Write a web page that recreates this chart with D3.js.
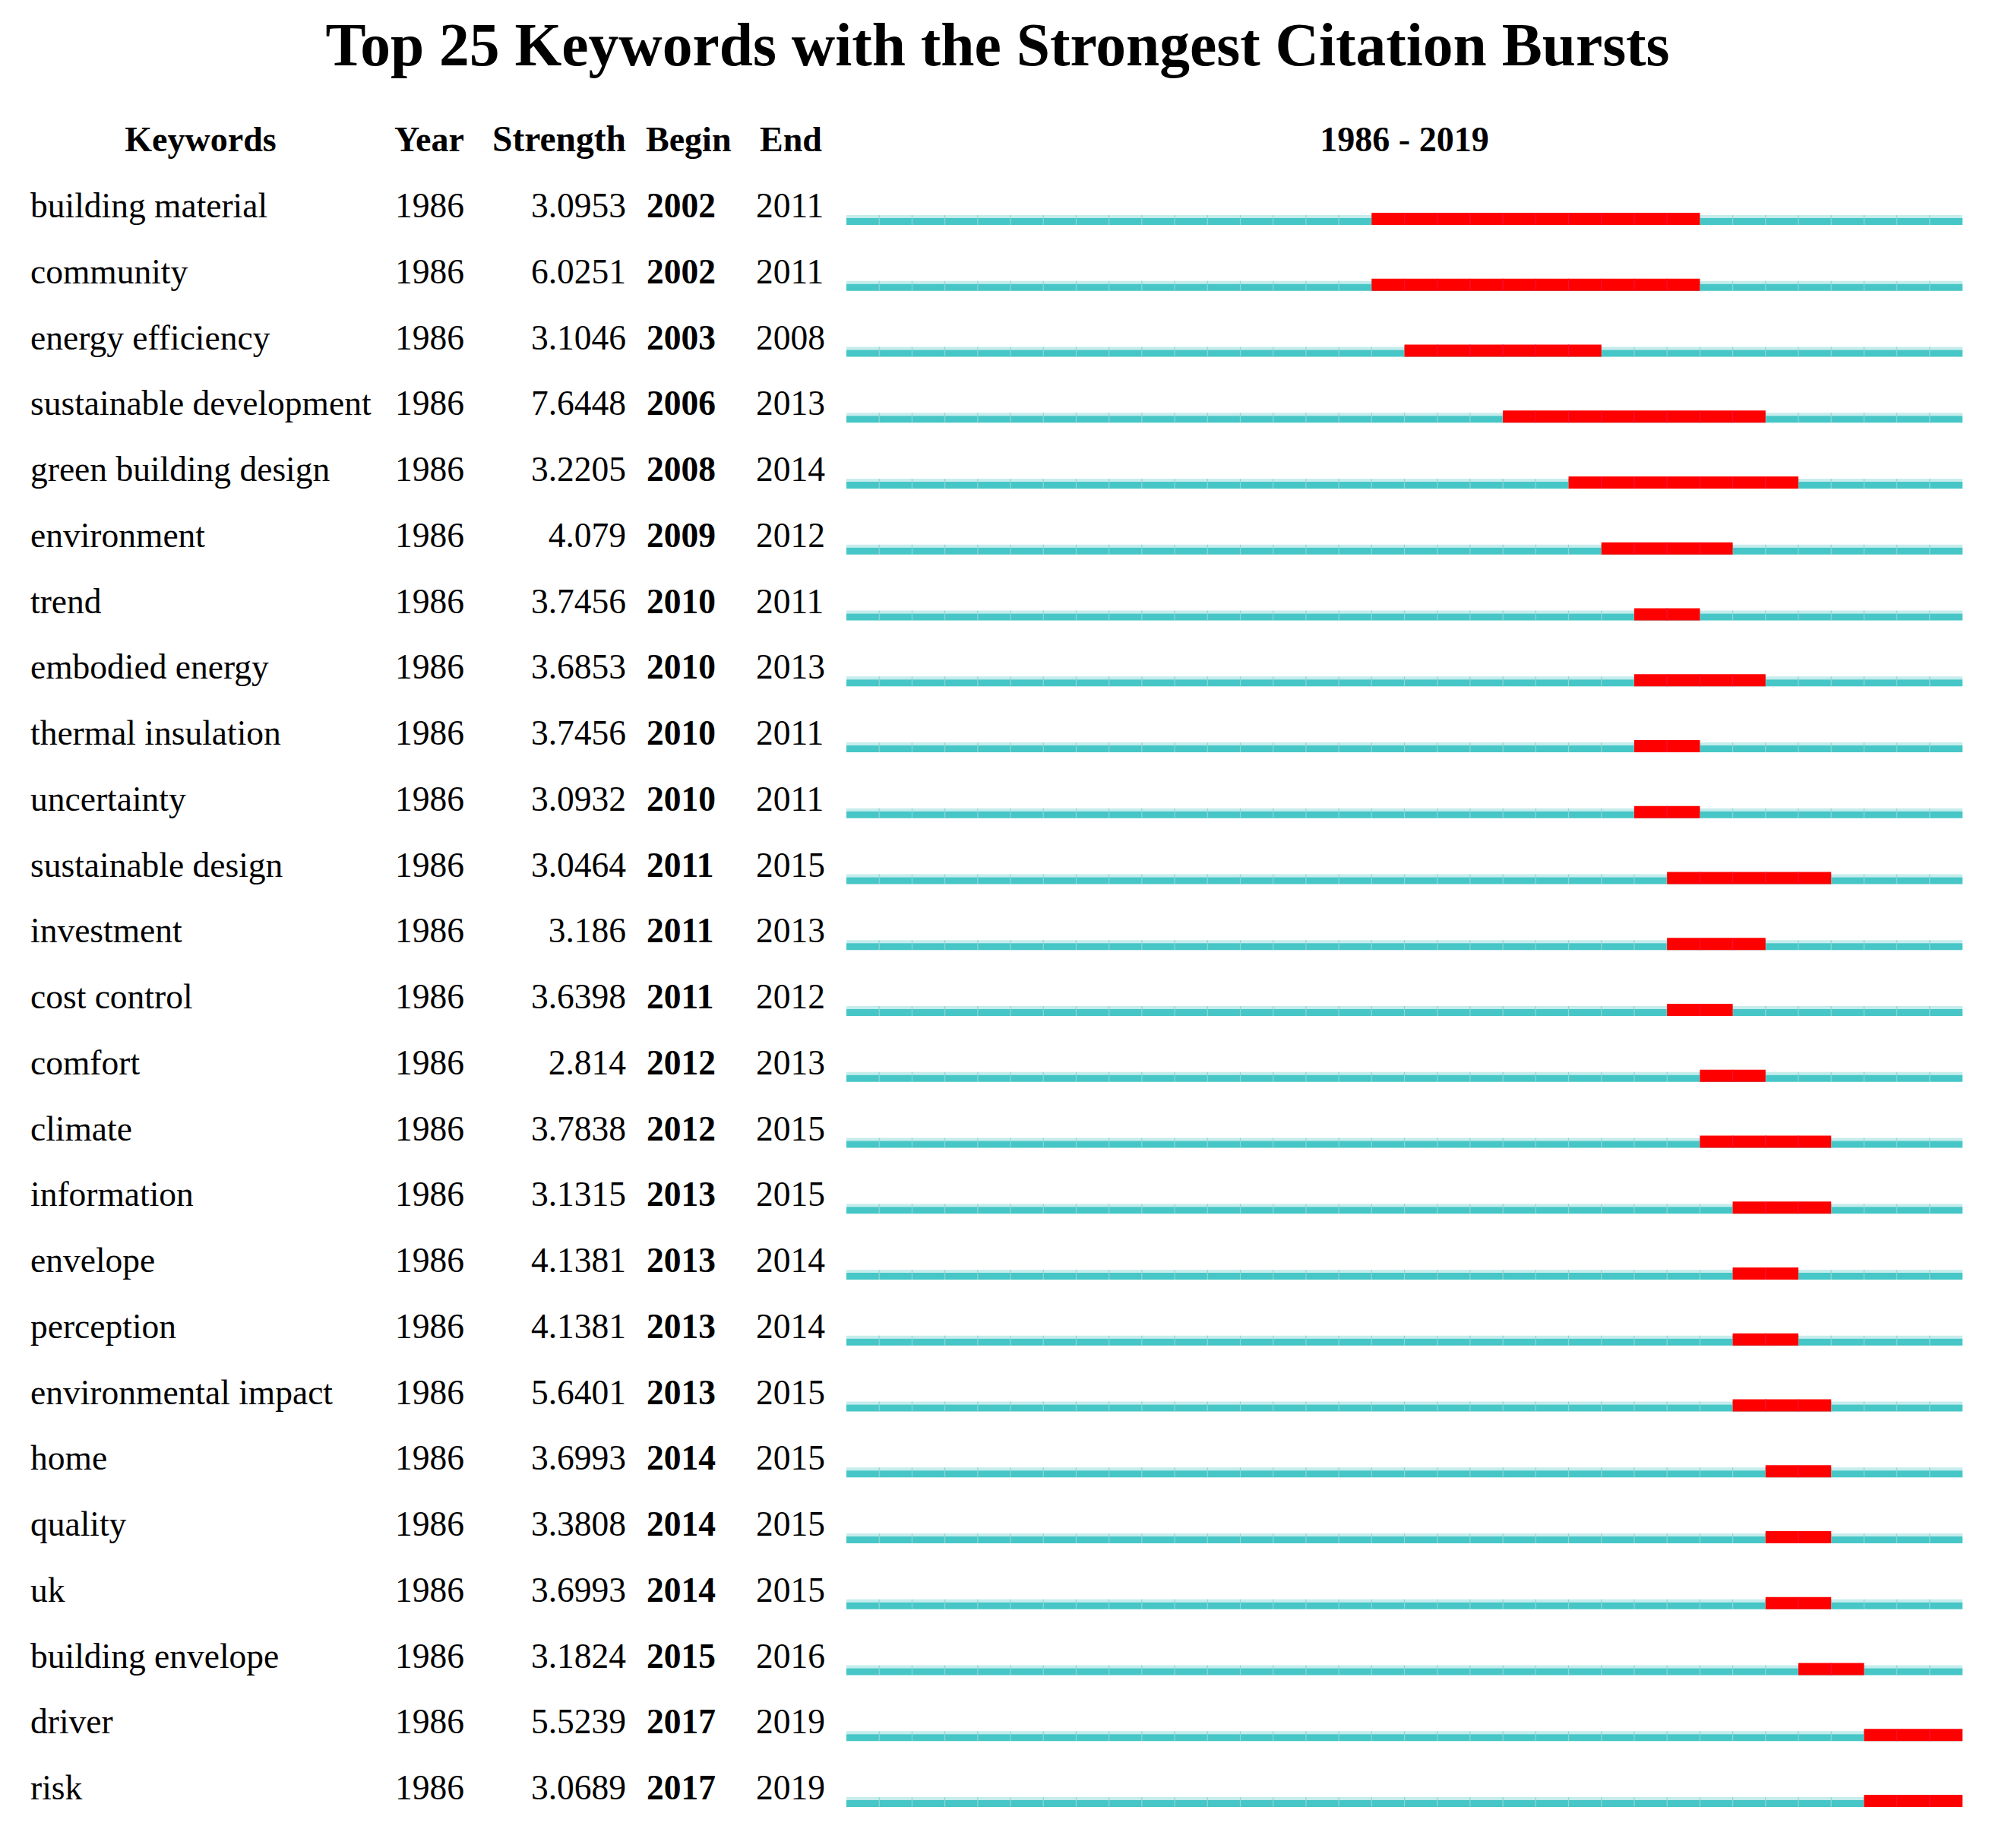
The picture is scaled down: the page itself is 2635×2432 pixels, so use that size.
<!DOCTYPE html>
<html>
<head>
<meta charset="utf-8">
<script src="https://cdn.jsdelivr.net/npm/d3@7"></script>
<style>
  html, body { margin: 0; padding: 0; background: #ffffff; }
  svg { display: block; }
  text { font-family: "Liberation Serif", "Times New Roman", serif; fill: #000; }
</style>
</head>
<body>
<svg id="chart" width="2635" height="2432"></svg>
<script>
const title = "Top 25 Keywords with the Strongest Citation Bursts";
const headers = ["Keywords", "Year", "Strength", "Begin", "End"];
const keywords = ["building material", "community", "energy efficiency", "sustainable development",
  "green building design", "environment", "trend", "embodied energy", "thermal insulation",
  "uncertainty", "sustainable design", "investment", "cost control", "comfort", "climate",
  "information", "envelope", "perception", "environmental impact", "home", "quality", "uk",
  "building envelope", "driver", "risk"];
const years = [1986,1986,1986,1986,1986,1986,1986,1986,1986,1986,1986,1986,1986,1986,1986,1986,1986,1986,1986,1986,1986,1986,1986,1986,1986];
const strengths = ["3.0953","6.0251","3.1046","7.6448","3.2205","4.079","3.7456","3.6853","3.7456",
  "3.0932","3.0464","3.186","3.6398","2.814","3.7838","3.1315","4.1381","4.1381","5.6401",
  "3.6993","3.3808","3.6993","3.1824","5.5239","3.0689"];
const begins = [2002,2002,2003,2006,2008,2009,2010,2010,2010,2010,2011,2011,2011,2012,2012,2013,2013,2013,2013,2014,2014,2014,2015,2017,2017];
const ends = [2011,2011,2008,2013,2014,2012,2011,2013,2011,2011,2015,2013,2012,2013,2015,2015,2014,2014,2015,2015,2015,2015,2016,2019,2019];
const rangeStart = 1986, rangeEnd = 2019;

const svg = d3.select("#chart");

// scales
const x = d3.scaleLinear().domain([rangeStart, rangeEnd + 1]).range([1114, 2583]);
const y = d3.scaleLinear().domain([0, keywords.length - 1]).range([296, 296 + 24 * 86.75]); // bar bottom per row
const yearList = d3.range(rangeStart, rangeEnd + 1);

// title
svg.append("text")
  .attr("x", 1313).attr("y", 86)
  .attr("text-anchor", "middle")
  .style("font-size", "79.5px").style("font-weight", "bold")
  .text(title);

// headers
const hy = 199;
const hdr = svg.append("g").style("font-size", "46px").style("font-weight", "bold");
hdr.append("text").attr("x", 264).attr("y", hy).attr("text-anchor", "middle").text(headers[0]);
hdr.append("text").attr("x", 519).attr("y", hy).text(headers[1]);
hdr.append("text").attr("x", 824).attr("y", hy).attr("text-anchor", "end").style("font-size", "47.5px").text(headers[2]);
hdr.append("text").attr("x", 850).attr("y", hy).text(headers[3]);
hdr.append("text").attr("x", 1000).attr("y", hy).text(headers[4]);
hdr.append("text").attr("x", (x.range()[0] + x.range()[1]) / 2).attr("y", hy)
  .attr("text-anchor", "middle").text(rangeStart + " - " + rangeEnd);

const rows = svg.append("g").selectAll("g.row")
  .data(keywords.map((k, i) => ({k, i, yr: years[i], s: strengths[i], b: begins[i], e: ends[i]})))
  .join("g").attr("class", "row");

const fs = "45.5px";
const tb = d => y(d.i) - 10;
rows.append("text").attr("x", 40).attr("y", tb).style("font-size", fs).text(d => d.k);
rows.append("text").attr("x", 520).attr("y", tb).style("font-size", fs).text(d => d.yr);
rows.append("text").attr("x", 824).attr("y", tb).attr("text-anchor", "end").style("font-size", fs).text(d => d.s);
rows.append("text").attr("x", 851).attr("y", tb).style("font-size", fs).style("font-weight", "bold").text(d => d.b);
rows.append("text").attr("x", 995).attr("y", tb).style("font-size", fs).text(d => d.e);

// teal base bar: light top strip + solid body
rows.append("rect")
  .attr("x", x(rangeStart)).attr("width", x(rangeEnd + 1) - x(rangeStart))
  .attr("y", d => y(d.i) - 13).attr("height", 4)
  .attr("fill", "#c6ecec");
rows.append("rect")
  .attr("x", x(rangeStart)).attr("width", x(rangeEnd + 1) - x(rangeStart))
  .attr("y", d => y(d.i) - 9).attr("height", 9)
  .attr("fill", "#46c6c6");
// year separators on teal
rows.each(function(d) {
  const g = d3.select(this);
  g.selectAll("line.sep").data(yearList.slice(1)).join("line").attr("class", "sep")
    .attr("x1", yr => x(yr)).attr("x2", yr => x(yr))
    .attr("y1", y(d.i) - 13).attr("y2", y(d.i))
    .attr("stroke", "#8fd6d6").attr("stroke-width", 1.2);
});

// red burst bars
rows.append("rect")
  .attr("x", d => x(d.b)).attr("width", d => x(d.e + 1) - x(d.b))
  .attr("y", d => y(d.i) - 16).attr("height", 16)
  .attr("fill", "#ff0000");
rows.each(function(d) {
  const g = d3.select(this);
  g.selectAll("line.rsep").data(d3.range(d.b + 1, d.e + 1)).join("line").attr("class", "rsep")
    .attr("x1", yr => x(yr)).attr("x2", yr => x(yr))
    .attr("y1", y(d.i) - 16).attr("y2", y(d.i))
    .attr("stroke", "#f5103a").attr("stroke-width", 1.2);
});
</script>
</body>
</html>
